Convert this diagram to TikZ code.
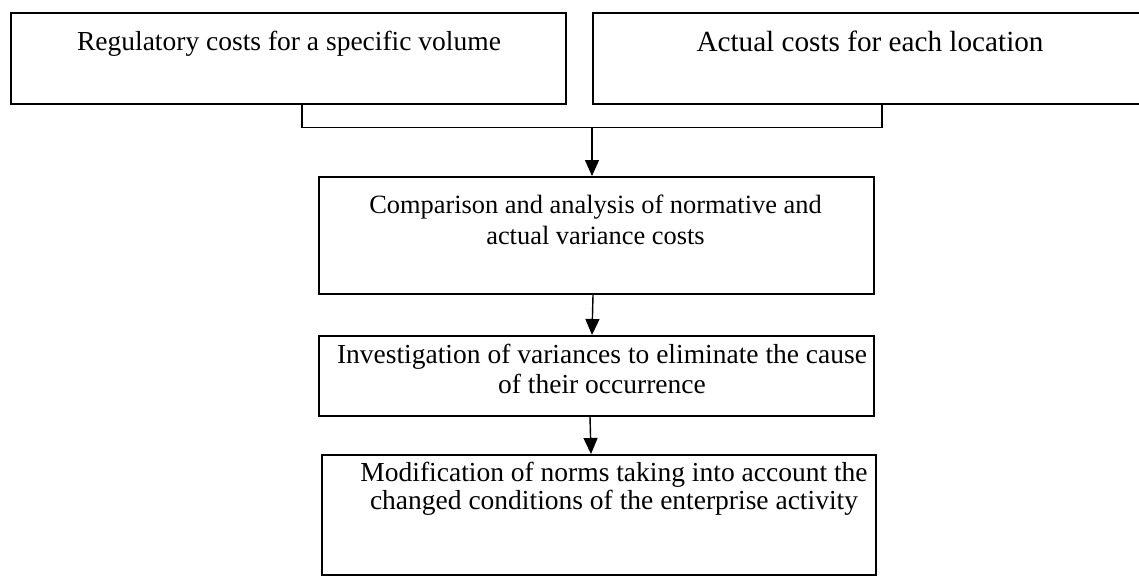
\documentclass[tikz,border=0pt]{standalone}
\usepackage{fontspec}
\setmainfont{Liberation Serif}
\usetikzlibrary{arrows.meta,calc}
\tikzset{
  box/.style={draw=black, line width=2pt, rectangle, inner sep=0pt, anchor=north west},
  txt/.style={inner sep=0pt, align=center, anchor=base},
  conn/.style={draw=black, line width=1.6pt},
  arr/.style={draw=black, line width=1.4pt, -{Triangle[width=14pt,length=16pt]}},
}
\begin{document}
\begin{tikzpicture}[x=1pt,y=-1pt]
\useasboundingbox (0,0) rectangle (1139,576);
% boxes
\node[box, minimum width=555pt, minimum height=91pt] (b1) at (10,12) {};
\node[box, minimum width=547pt, minimum height=91pt] (b2) at (592,12) {};
\node[box, minimum width=555pt, minimum height=117pt] (b3) at (318,176) {};
\node[box, minimum width=555pt, minimum height=80pt] (b4) at (318,335) {};
\node[box, minimum width=554pt, minimum height=120pt] (b5) at (321,454) {};
% texts (anchor base = baseline of the last line)
\node[txt, font=\fontsize{27.5}{30}\selectfont] (t1) at (289,50) {Regulatory costs for a specific volume};
\node[txt, font=\fontsize{29.2}{32}\selectfont] (t2) at (870,51) {Actual costs for each location};
\node[txt, font=\fontsize{26.4}{31}\selectfont] (t3) at (595.5,244) {Comparison and analysis of normative and\\actual variance costs};
\node[txt, font=\fontsize{27.5}{30}\selectfont] (t4) at (602,393) {Investigation of variances to eliminate the cause\\of their occurrence};
\node[txt, font=\fontsize{27.5}{28}\selectfont] (t5) at (614,509) {Modification of norms taking into account the\\changed conditions of the enterprise activity};
% connectors
\coordinate (j) at (592,127.5);
\draw[conn] ([xshift=292pt]b1.south west) |- (j) -| ([xshift=290pt]b2.south west);
\draw[arr] (j) -- (j |- b3.north);
\draw[arr] ([xshift=-3.5pt]b3.south) -- ([xshift=-4.5pt]b4.north);
\draw[arr] ([xshift=-6.5pt]b4.south) -- ([xshift=-8pt]b5.north);
\end{tikzpicture}
\end{document}
